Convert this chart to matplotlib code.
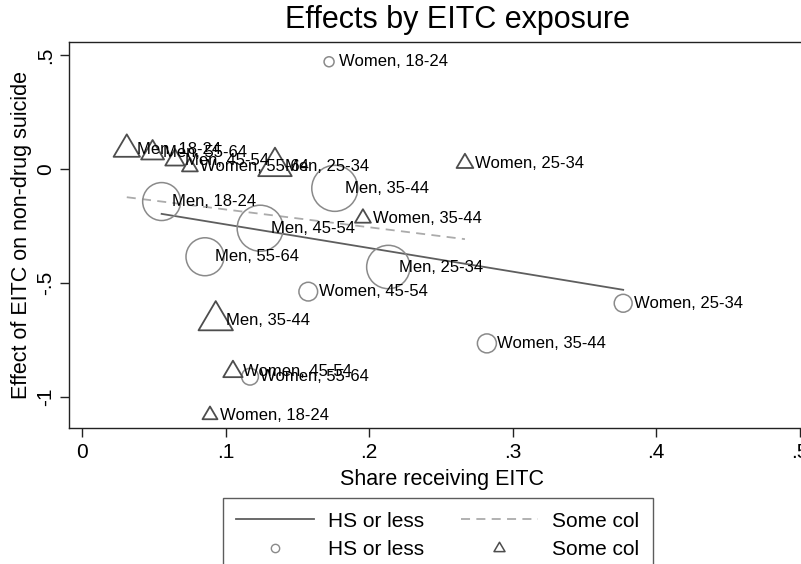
import matplotlib
matplotlib.use('Agg')
import matplotlib.pyplot as plt
import numpy as np
from matplotlib.path import Path
from matplotlib.lines import Line2D

plt.rcParams['font.family'] = ['Liberation Sans', 'DejaVu Sans']

# ---------------- data ----------------
circle_labels = ["Women, 18-24", "Men, 18-24", "Men, 35-44", "Men, 45-54", "Men, 55-64",
                 "Men, 25-34", "Women, 45-54", "Women, 25-34", "Women, 35-44", "Women, 55-64"]
circle_x = [0.172, 0.0553, 0.176, 0.124, 0.0855, 0.2133, 0.1575, 0.377, 0.282, 0.1169]
circle_y = [0.47, -0.143, -0.085, -0.26, -0.385, -0.43, -0.538, -0.589, -0.765, -0.911]
circle_w = [1.0, 14.4, 21.2, 21.2, 14.4, 18.8, 3.5, 3.2, 3.6, 2.8]

tri_labels = ["Men, 18-24", "Men, 55-64", "Men, 45-54", "Women, 55-64", "Men, 25-34",
              "Men, 35-44", "Women, 25-34", "Women, 35-44", "Women, 45-54", "Women, 18-24"]
tri_x = [0.031, 0.049, 0.0646, 0.075, 0.1343, 0.093, 0.2667, 0.1956, 0.105, 0.089]
tri_y = [0.086, 0.070, 0.039, 0.009, 0.010, -0.665, 0.025, -0.216, -0.889, -1.079]
tri_w = [3.1, 2.34, 1.67, 1.12, 5.0, 5.26, 1.25, 1.12, 1.67, 1.0]

# fitted lines (intercept, slope)
hs_fit = [-0.1398, -1.035]
sc_fit = [-0.0998, -0.78]

xticks = [0, 0.1, 0.2, 0.3, 0.4, 0.5]
xticklabels = ["0", ".1", ".2", ".3", ".4", ".5"]
yticks = [-1, -0.5, 0, 0.5]
yticklabels = ["-1", "-.5", "0", ".5"]

series_names = ["HS or less", "Some col"]

# ---------------- style ----------------
W, H = 801, 564
DPI = 100
PX = 72.0 / DPI  # points per pixel
circ_col = '#8a8a8a'
tri_col = '#4d4d4d'
hs_line_col = '#5e5e5e'
sc_line_col = '#ababab'

fig = plt.figure(figsize=(W / DPI, H / DPI), dpi=DPI)
ax_left, ax_right_px, ax_top, ax_bot = 69.3, 814.0, 41.7, 428.0
ax = fig.add_axes([ax_left / W, 1 - ax_bot / H, (ax_right_px - ax_left) / W, (ax_bot - ax_top) / H])
ax.set_xlim(-0.00906, 0.51)
ax.set_ylim(-1.136, 0.558)

# triangle marker with centroid at origin
tri_path = Path([(0, 0.567), (-0.5, -0.283), (0.5, -0.283), (0, 0.567)],
                [Path.MOVETO, Path.LINETO, Path.LINETO, Path.CLOSEPOLY])

# fit lines
cx = np.array(circle_x)
tx = np.array(tri_x)
xs_hs = np.array([cx.min(), cx.max()])
xs_sc = np.array([tx.min(), tx.max()])
ax.plot(xs_hs, hs_fit[0] + hs_fit[1] * xs_hs, color=hs_line_col, lw=1.3, zorder=2)
ax.plot(xs_sc, sc_fit[0] + sc_fit[1] * xs_sc, color=sc_line_col, lw=1.3,
        dashes=(5, 3.5), zorder=2)

# circles
circ_r_px = 5.0 * np.sqrt(np.array(circle_w))
circ_s = (2 * circ_r_px * PX) ** 2
ax.scatter(circle_x, circle_y, s=circ_s, facecolors='none', edgecolors=circ_col,
           linewidths=1.1, zorder=3)
for lab, x, y in zip(circle_labels, circle_x, circle_y):
    ax.annotate(lab, (x, y), xytext=(7.5, 0), textcoords='offset points',
                ha='left', va='center', fontsize=12, color='black', zorder=4)

# triangles
tri_base_px = 17.0 * np.sqrt(np.array(tri_w))
tri_s = (tri_base_px * PX) ** 2
ax.scatter(tri_x, tri_y, s=tri_s, marker=tri_path, facecolors='none', edgecolors=tri_col,
           linewidths=1.3, zorder=3)
for lab, x, y in zip(tri_labels, tri_x, tri_y):
    ax.annotate(lab, (x, y), xytext=(7.5, 0), textcoords='offset points',
                ha='left', va='center', fontsize=12, color='black', zorder=4)

# axes styling
for side in ['left', 'bottom', 'top']:
    ax.spines[side].set_linewidth(1.0)
    ax.spines[side].set_color('#222222')
ax.spines['right'].set_visible(False)
ax.set_xticks(xticks)
ax.set_xticklabels(xticklabels)
ax.set_yticks(yticks)
ax.set_yticklabels(yticklabels, rotation=90, va='center')
ax.tick_params(direction='out', length=6.5, width=1.0, color='#222222', labelsize=15, pad=4)
ax.set_xlabel("Share receiving EITC", fontsize=15.5, labelpad=5)
ax.set_ylabel("Effect of EITC on non-drug suicide", fontsize=15.5, labelpad=3)
fig.text(458 / W, 1 - 20 / H, "Effects by EITC exposure", ha='center', va='center', fontsize=22)

# legend
handles = [
    Line2D([], [], color=hs_line_col, lw=1.3),
    Line2D([], [], marker='o', ls='none', markerfacecolor='none', markeredgecolor=circ_col,
           markersize=6, markeredgewidth=1.0),
    Line2D([], [], color=sc_line_col, lw=1.3, dashes=(5, 3.5)),
    Line2D([], [], marker=tri_path, ls='none', markerfacecolor='none', markeredgecolor=tri_col,
           markersize=9, markeredgewidth=1.1),
]
labels = [series_names[0], series_names[0], series_names[1], series_names[1]]
leg = fig.legend(handles, labels, ncol=2, loc='upper center',
                 bbox_to_anchor=(438 / W, 1 - 498 / H), frameon=True, fancybox=False,
                 edgecolor='#333333', fontsize=15, handlelength=3.7, handletextpad=0.7,
                 columnspacing=1.75, borderpad=0.65, labelspacing=0.45, borderaxespad=0)
leg.get_frame().set_linewidth(1.0)

fig.savefig('out.png', dpi=DPI)
